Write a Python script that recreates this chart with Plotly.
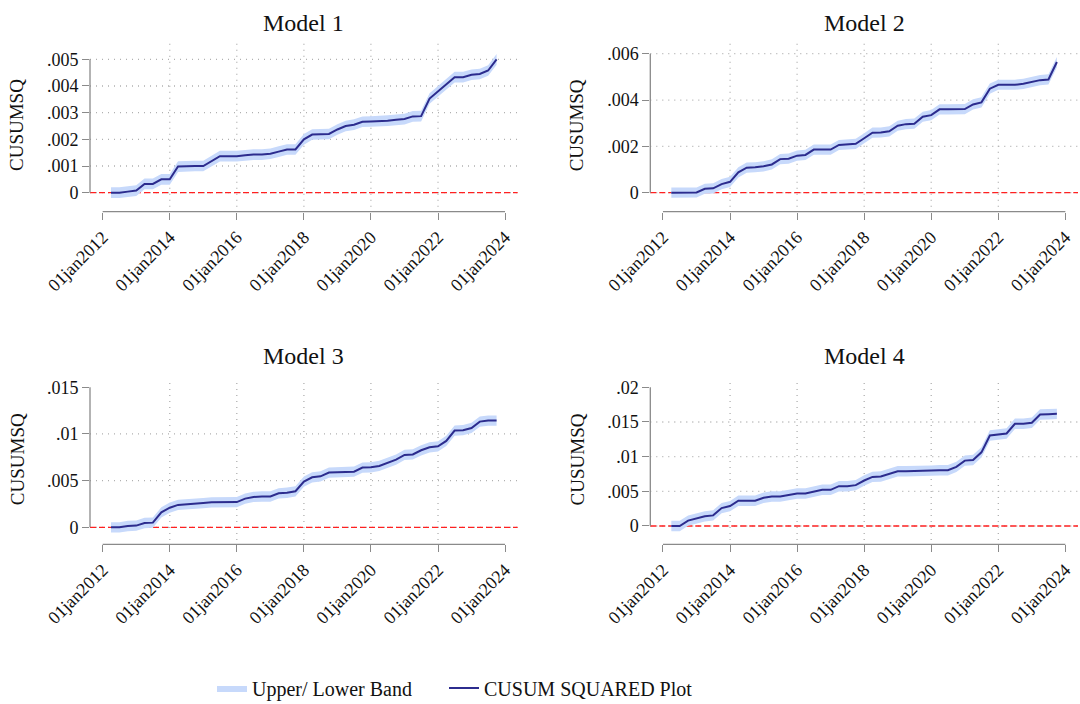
import plotly.graph_objects as go
import pandas as pd

# ---------------- data ----------------
quarters = pd.date_range("2012-04-01", periods=47, freq="QS")

model_titles = ["Model 1", "Model 2", "Model 3", "Model 4"]

cusumsq_model1 = [0, 0, 0.00004, 0.00008, 0.00033, 0.00033, 0.0005, 0.0005, 0.00098, 0.001,
                  0.001, 0.001, 0.0012, 0.00137, 0.00137, 0.00137, 0.0014, 0.00143, 0.00143, 0.00146,
                  0.00154, 0.00162, 0.00162, 0.002, 0.00218, 0.0022, 0.0022, 0.00237, 0.0025, 0.00255,
                  0.00266, 0.00267, 0.00268, 0.0027, 0.00273, 0.00276, 0.00286, 0.00287, 0.00353, 0.0038,
                  0.00404, 0.00433, 0.00433, 0.00442, 0.00445, 0.00458, 0.005]
cusumsq_model2 = [0, 0, 0, 0.00001, 0.00017, 0.00019, 0.00037, 0.00047, 0.00088, 0.00108,
                  0.0011, 0.00114, 0.00122, 0.00145, 0.00147, 0.0016, 0.00163, 0.00186, 0.00186, 0.00186,
                  0.00206, 0.00207, 0.00211, 0.00235, 0.00259, 0.0026, 0.00265, 0.00289, 0.00296, 0.00298,
                  0.00328, 0.00335, 0.0036, 0.0036, 0.0036, 0.00361, 0.00381, 0.0039, 0.00449, 0.00466,
                  0.00466, 0.00466, 0.0047, 0.00478, 0.00486, 0.00489, 0.00564]
cusumsq_model3 = [0, 0, 0.00014, 0.00018, 0.00046, 0.0005, 0.0016, 0.0021, 0.0024, 0.00246,
                  0.00246, 0.0026, 0.00268, 0.0027, 0.0027, 0.0027, 0.00307, 0.00325, 0.0033, 0.0033,
                  0.00364, 0.0037, 0.00386, 0.0049, 0.00536, 0.00546, 0.00586, 0.0059, 0.00593, 0.00596,
                  0.0064, 0.00643, 0.00657, 0.0069, 0.00725, 0.00775, 0.0078, 0.00825, 0.00857, 0.00868,
                  0.00925, 0.01036, 0.0104, 0.01064, 0.01132, 0.01143, 0.01143]
cusumsq_model4 = [0, 0, 0.00077, 0.00105, 0.00139, 0.00153, 0.00258, 0.00287, 0.00364, 0.00364,
                  0.00364, 0.00407, 0.00426, 0.00426, 0.00445, 0.00469, 0.00469, 0.00498, 0.00522, 0.00522,
                  0.00574, 0.00574, 0.00589, 0.00656, 0.00708, 0.00713, 0.00751, 0.0079, 0.0079, 0.0079,
                  0.00794, 0.00799, 0.00804, 0.00804, 0.00852, 0.00943, 0.00952, 0.01062, 0.01306, 0.01316,
                  0.01335, 0.01474, 0.01474, 0.01488, 0.01608, 0.01612, 0.01617]

band_halfwidth = [0.0002, 0.00022, 0.00055, 0.00075]

y_tick_values = [
    [0, 0.001, 0.002, 0.003, 0.004, 0.005],
    [0, 0.002, 0.004, 0.006],
    [0, 0.005, 0.01, 0.015],
    [0, 0.005, 0.01, 0.015, 0.02],
]
y_tick_labels = [
    ["0", ".001", ".002", ".003", ".004", ".005"],
    ["0", ".002", ".004", ".006"],
    ["0", ".005", ".01", ".015"],
    ["0", ".005", ".01", ".015", ".02"],
]
x_tick_dates = ["2012-01-01", "2014-01-01", "2016-01-01", "2018-01-01",
                "2020-01-01", "2022-01-01", "2024-01-01"]
x_tick_labels = ["01jan2012", "01jan2014", "01jan2016", "01jan2018",
                 "01jan2020", "01jan2022", "01jan2024"]

series = [cusumsq_model1, cusumsq_model2, cusumsq_model3, cusumsq_model4]

# ---------------- layout / style ----------------
W, H = 1080, 704
FONT = "Liberation Serif, Times New Roman, serif"
BAND = "#c7d9fb"
LINE = "#2c2c8e"
AXIS = "#8a8a8a"
GRID = "#b0b0b0"

y_ranges = [[-0.000525, 0.0056], [-0.000604, 0.00645],
            [-0.00136, 0.01596], [-0.00202, 0.0213]]
x_range = ["2011-08-16", "2024-05-18"]
col_domains = [[90 / W, 517.7 / W], [650.3 / W, 1078 / W]]
row_domains = [[1 - 206.7 / H, 1 - 43.3 / H], [1 - 540 / H, 1 - 378.3 / H]]
x_axis_pos = [1 - 211.7 / H, 1 - 544.3 / H]
title_y = [1 - 22.5 / H, 1 - 355.5 / H]
grid_at_top = [True, True, False, False]

fig = go.Figure()
shapes = []
annotations = []

for i in range(4):
    n = i + 1
    r, c = divmod(i, 2)
    xa = "x" if n == 1 else f"x{n}"
    ya = "y" if n == 1 else f"y{n}"
    vals = series[i]
    hw = band_halfwidth[i]
    lower = [v - hw for v in vals]
    upper = [v + hw for v in vals]

    fig.add_trace(go.Scatter(x=quarters, y=lower, mode="lines", line=dict(width=0, color=BAND),
                             showlegend=False, hoverinfo="skip", xaxis=xa, yaxis=ya))
    fig.add_trace(go.Scatter(x=quarters, y=upper, mode="lines", line=dict(width=0, color=BAND),
                             fill="tonexty", fillcolor=BAND, name="Upper/ Lower Band",
                             showlegend=(i == 0), legend="legend", xaxis=xa, yaxis=ya))
    fig.add_trace(go.Scatter(x=quarters, y=vals, mode="lines", line=dict(width=2, color=LINE),
                             name="CUSUM SQUARED Plot", showlegend=(i == 0), legend="legend2",
                             xaxis=xa, yaxis=ya))

    xkey = "xaxis" if n == 1 else f"xaxis{n}"
    ykey = "yaxis" if n == 1 else f"yaxis{n}"
    fig.update_layout({
        xkey: dict(domain=col_domains[c], range=x_range, type="date", anchor="free",
                   position=x_axis_pos[r], showline=False, showgrid=False, zeroline=False,
                   automargin=False,
                   tickmode="array", tickvals=x_tick_dates, ticktext=x_tick_labels,
                   tickangle=-45, ticks="outside", ticklen=7, tickwidth=1.3, tickcolor=AXIS,
                   tickfont=dict(family=FONT, size=18, color="#111")),
        ykey: dict(domain=row_domains[r], range=y_ranges[i], anchor=xa, showline=False,
                   showgrid=False, zeroline=False, automargin=False, tickmode="array",
                   tickvals=y_tick_values[i], ticktext=y_tick_labels[i],
                   ticks="outside", ticklen=7, tickwidth=1.3, tickcolor=AXIS,
                   tickfont=dict(family=FONT, size=18, color="#111")),
    })

    # horizontal grid
    gvals = y_tick_values[i] if grid_at_top[i] else y_tick_values[i][:-1]
    for v in gvals:
        shapes.append(dict(type="line", xref=f"{xa} domain", x0=0, x1=1, yref=ya, y0=v, y1=v,
                           line=dict(color=GRID, width=1.3, dash="1px,5px"), layer="below"))
    # vertical grid (not at extremes)
    for d in x_tick_dates[1:-1]:
        shapes.append(dict(type="line", xref=xa, x0=d, x1=d, yref=f"{ya} domain", y0=0, y1=1,
                           line=dict(color=GRID, width=1.3, dash="1px,5px"), layer="below"))
    # red reference line at zero
    shapes.append(dict(type="line", xref=f"{xa} domain", x0=0, x1=1, yref=ya, y0=0, y1=0,
                       line=dict(color="#ff2020", width=1.3, dash="6px,3px"), layer="below"))
    # y axis line (tick range only)
    shapes.append(dict(type="line", xref=f"{xa} domain", x0=0, x1=0, yref=ya,
                       y0=y_tick_values[i][0], y1=y_tick_values[i][-1],
                       line=dict(color=AXIS, width=1.3)))
    # x axis line (tick range only)
    shapes.append(dict(type="line", xref=xa, x0=x_tick_dates[0], x1=x_tick_dates[-1],
                       yref="paper", y0=x_axis_pos[r], y1=x_axis_pos[r],
                       line=dict(color=AXIS, width=1.3)))

    cx = (col_domains[c][0] + col_domains[c][1]) / 2
    cy = (row_domains[r][0] + row_domains[r][1]) / 2
    annotations.append(dict(text=model_titles[i], xref="paper", yref="paper", x=cx, y=title_y[r],
                            xanchor="center", yanchor="middle", showarrow=False,
                            font=dict(family=FONT, size=24, color="#111")))
    annotations.append(dict(text="CUSUMSQ", xref="paper", yref="paper",
                            x=col_domains[c][0] - 73 / W, y=cy, textangle=-90,
                            xanchor="center", yanchor="middle", showarrow=False,
                            font=dict(family=FONT, size=19, color="#111")))

legend_common = dict(orientation="h", xanchor="left", y=1 - 688 / H, yanchor="middle",
                     font=dict(family=FONT, size=20, color="#111"), itemwidth=30,
                     bgcolor="rgba(0,0,0,0)")

fig.update_layout(
    template="none",
    width=W, height=H,
    margin=dict(l=0, r=0, t=0, b=0, autoexpand=False),
    paper_bgcolor="white", plot_bgcolor="white",
    shapes=shapes, annotations=annotations,
    showlegend=True,
    legend=dict(x=212 / W, **legend_common),
    legend2=dict(x=444 / W, **legend_common),
    font=dict(family=FONT),
)

fig.write_html("out.html")
